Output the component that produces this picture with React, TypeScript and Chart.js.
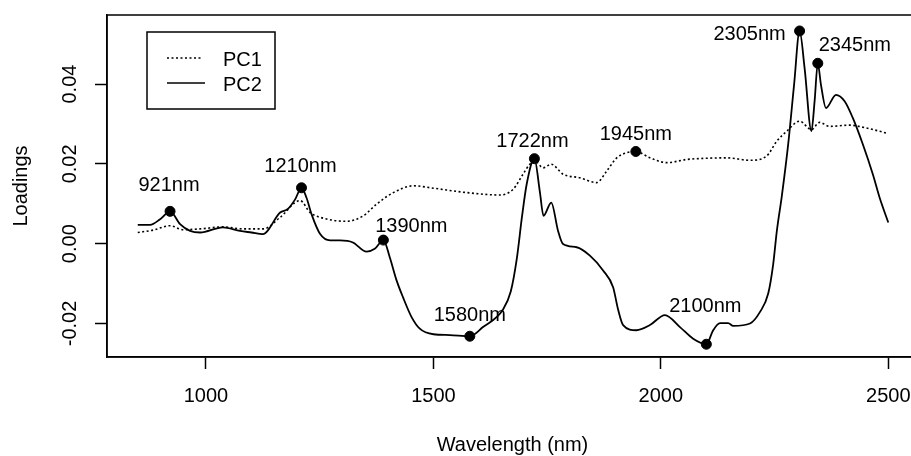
import React, { useEffect, useRef } from "react";
import { Chart, registerables } from "chart.js";
Chart.register(...registerables);

// ---------- data ----------
const seriesNames = ["PC1", "PC2"];

const wavelengthsPC1 = [
  850, 884, 921, 950, 987, 1038, 1082, 1126, 1163, 1207, 1229, 1265, 1309, 1346, 1375, 1412,
  1456, 1500, 1573, 1646, 1675, 1697, 1712, 1723, 1741, 1759, 1785, 1822, 1859, 1881, 1903,
  1925, 1945, 1976, 2013, 2057, 2100, 2144, 2196, 2232, 2255, 2277, 2305, 2331, 2349, 2371,
  2415, 2451, 2500,
];
const loadingsPC1 = [
  0.0028, 0.0034, 0.0045, 0.0035, 0.0037, 0.0042, 0.0037, 0.0037, 0.0066, 0.0108, 0.0078,
  0.0062, 0.0056, 0.007, 0.0099, 0.0128, 0.0145, 0.0139, 0.0128, 0.0122, 0.0136, 0.0174,
  0.0199, 0.0207, 0.019, 0.0199, 0.0174, 0.0165, 0.0153, 0.0182, 0.0215, 0.0228, 0.0231,
  0.0215, 0.0203, 0.0211, 0.0214, 0.0215, 0.0209, 0.0219, 0.0257, 0.0282, 0.0307, 0.0286,
  0.0304, 0.0294, 0.0297, 0.029, 0.0276,
];

const wavelengthsPC2 = [
  850, 877, 900, 921, 943, 965, 987, 1037, 1075, 1100, 1125, 1163, 1180, 1196, 1210, 1221,
  1232, 1251, 1273, 1295, 1323, 1353, 1371, 1390, 1404, 1419, 1433, 1452, 1470, 1500, 1536,
  1580, 1609, 1653, 1670, 1683, 1695, 1705, 1722, 1734, 1742, 1759, 1774, 1785, 1815, 1844,
  1873, 1895, 1906, 1917, 1946, 1976, 2009, 2042, 2071, 2100, 2115, 2130, 2148, 2159, 2196,
  2218, 2236, 2247, 2255, 2266, 2280, 2293, 2305, 2316, 2331, 2338, 2345, 2352, 2363, 2385,
  2404, 2422, 2444, 2466, 2481, 2500,
];
const loadingsPC2 = [
  0.0047, 0.0047, 0.0062, 0.0081, 0.0049, 0.0032, 0.0028, 0.0041, 0.0032, 0.0028, 0.0024,
  0.0078, 0.0087, 0.0111, 0.014, 0.0115, 0.0074, 0.0024, 0.0008, 0.0008, 0.0003, -0.002,
  -0.0013, 0.0009, -0.0034, -0.0092, -0.0134, -0.0184, -0.0213, -0.0227, -0.0229, -0.0232,
  -0.0209, -0.0165, -0.012, -0.004, 0.007, 0.0149, 0.0213, 0.013, 0.007, 0.0103, 0.0032,
  -0.0001, -0.0009, -0.003, -0.0067, -0.0109, -0.0165, -0.0204, -0.0217, -0.0204, -0.0179,
  -0.0209, -0.0238, -0.0252, -0.0217, -0.0199, -0.0199, -0.0206, -0.02, -0.0171, -0.0125,
  -0.0051, 0.0032, 0.012, 0.025, 0.04, 0.0533, 0.044, 0.0282, 0.0357, 0.0452, 0.0398,
  0.034, 0.0373, 0.0357, 0.0315, 0.0249, 0.0174, 0.0115, 0.0053,
];

const peakWavelengths = [921, 1210, 1390, 1580, 1722, 1945, 2100, 2305, 2345];
const peakLoadings = [0.0081, 0.014, 0.0009, -0.0232, 0.0213, 0.0231, -0.0252, 0.0533, 0.0452];
const peakLabels = ["921nm", "1210nm", "1390nm", "1580nm", "1722nm", "1945nm", "2100nm", "2305nm", "2345nm"];

const xTicks = [1000, 1500, 2000, 2500];
const yTicks = [-0.02, 0.0, 0.02, 0.04];

// ---------- layout / style ----------
const labelOffsets: [number, number][] = [
  [-1, -26], [-1, -21], [28, -14], [0, -21], [-2, -17], [0, -17], [-1, -38], [-50, 4], [37, -18],
];
const FONT = '"Liberation Sans", Arial, Helvetica, sans-serif';

export default function App() {
  const ref = useRef<HTMLCanvasElement>(null);

  useEffect(() => {
    const canvas = ref.current;
    if (!canvas) return;

    const overlay = {
      id: "overlay",
      afterDraw(chart: any) {
        const ctx = chart.ctx as CanvasRenderingContext2D;
        const { left, top, right, bottom } = chart.chartArea;
        const xs = chart.scales.x;
        const ys = chart.scales.y;
        ctx.save();
        ctx.strokeStyle = "#000";
        ctx.fillStyle = "#000";
        ctx.lineWidth = 1.5;
        ctx.strokeRect(left, top, right - left, bottom - top);

        ctx.font = `20px ${FONT}`;
        ctx.textAlign = "center";
        ctx.textBaseline = "middle";
        peakWavelengths.forEach((w, i) => {
          const px = xs.getPixelForValue(w);
          const py = ys.getPixelForValue(peakLoadings[i]);
          ctx.fillText(peakLabels[i], px + labelOffsets[i][0], py + labelOffsets[i][1]);
        });

        // rotated y tick labels
        ys.ticks.forEach((t: any) => {
          const py = ys.getPixelForValue(t.value);
          ctx.save();
          ctx.translate(left - 37.5, py);
          ctx.rotate(-Math.PI / 2);
          ctx.fillText(t.value.toFixed(2), 0, 1);
          ctx.restore();
        });

        // legend
        const bx = left + 40, by = top + 17;
        ctx.lineWidth = 1.5;
        ctx.strokeRect(bx, by, 128, 77);
        ctx.lineWidth = 1.6;
        ctx.setLineDash([2, 2.5]);
        ctx.beginPath();
        ctx.moveTo(bx + 20, by + 26);
        ctx.lineTo(bx + 56, by + 26);
        ctx.stroke();
        ctx.setLineDash([]);
        ctx.beginPath();
        ctx.moveTo(bx + 20, by + 51);
        ctx.lineTo(bx + 58, by + 51);
        ctx.stroke();
        ctx.textAlign = "left";
        ctx.fillText(seriesNames[0], bx + 76, by + 28);
        ctx.fillText(seriesNames[1], bx + 76, by + 53);
        ctx.restore();
      },
    };

    const chart = new Chart(canvas, {
      type: "line",
      data: {
        datasets: [
          {
            label: seriesNames[0],
            data: wavelengthsPC1.map((x, i) => ({ x, y: loadingsPC1[i] })),
            borderColor: "#000",
            borderWidth: 1.6,
            borderDash: [2, 2.5],
            pointRadius: 0,
            cubicInterpolationMode: "monotone",
            fill: false,
          },
          {
            label: seriesNames[1],
            data: wavelengthsPC2.map((x, i) => ({ x, y: loadingsPC2[i] })),
            borderColor: "#000",
            borderWidth: 1.8,
            pointRadius: 0,
            cubicInterpolationMode: "monotone",
            fill: false,
          },
          {
            label: "peaks",
            data: peakWavelengths.map((x, i) => ({ x, y: peakLoadings[i] })),
            showLine: false,
            pointRadius: 5,
            pointHoverRadius: 5,
            pointBackgroundColor: "#000",
            pointBorderColor: "#000",
            borderColor: "#000",
          },
        ],
      },
      options: {
        responsive: false,
        devicePixelRatio: 1,
        animation: false,
        layout: { padding: { left: 0, top: 13, right: 12, bottom: 0 } },
        plugins: { legend: { display: false }, tooltip: { enabled: false } },
        events: [],
        scales: {
          x: {
            type: "linear",
            min: 782.4,
            max: 2565.3,
            afterBuildTicks: (s: any) => {
              s.ticks = xTicks.map((v) => ({ value: v }));
            },
            afterFit: (s: any) => {
              s.height = 99;
            },
            ticks: {
              color: "#000",
              font: { family: FONT, size: 20 },
              padding: 15,
              maxRotation: 0,
              autoSkip: false,
              callback: (v: any) => String(v),
            },
            grid: {
              drawOnChartArea: false,
              drawTicks: true,
              tickLength: 12,
              tickColor: "#000",
              tickWidth: 1.5,
            },
            border: { display: true, color: "#000", width: 1.5 },
            title: {
              display: true,
              text: "Wavelength (nm)",
              color: "#000",
              font: { family: FONT, size: 20, lineHeight: 1 },
              padding: { top: 0, bottom: 0.5 },
            },
          },
          y: {
            type: "linear",
            min: -0.0284,
            max: 0.0573,
            afterBuildTicks: (s: any) => {
              s.ticks = yTicks.map((v) => ({ value: v }));
            },
            afterFit: (s: any) => {
              s.width = 107;
            },
            ticks: {
              color: "rgba(0,0,0,0)",
              font: { family: FONT, size: 20 },
              callback: (v: any) => Number(v).toFixed(2),
            },
            grid: {
              drawOnChartArea: false,
              drawTicks: true,
              tickLength: 12,
              tickColor: "#000",
              tickWidth: 1.5,
            },
            border: { display: true, color: "#000", width: 1.5 },
            title: {
              display: true,
              text: "Loadings",
              color: "#000",
              font: { family: FONT, size: 20, lineHeight: 1 },
              padding: { top: 11, bottom: 0 },
            },
          },
        },
      },
      plugins: [overlay],
    } as any);

    return () => chart.destroy();
  }, []);

  return (
    <div
      style={{
        position: "fixed",
        left: 0,
        top: 0,
        width: 911,
        height: 456,
        overflow: "hidden",
        background: "#fff",
      }}
    >
      <canvas ref={ref} width={930} height={456} style={{ display: "block", width: 930, height: 456 }} />
    </div>
  );
}
